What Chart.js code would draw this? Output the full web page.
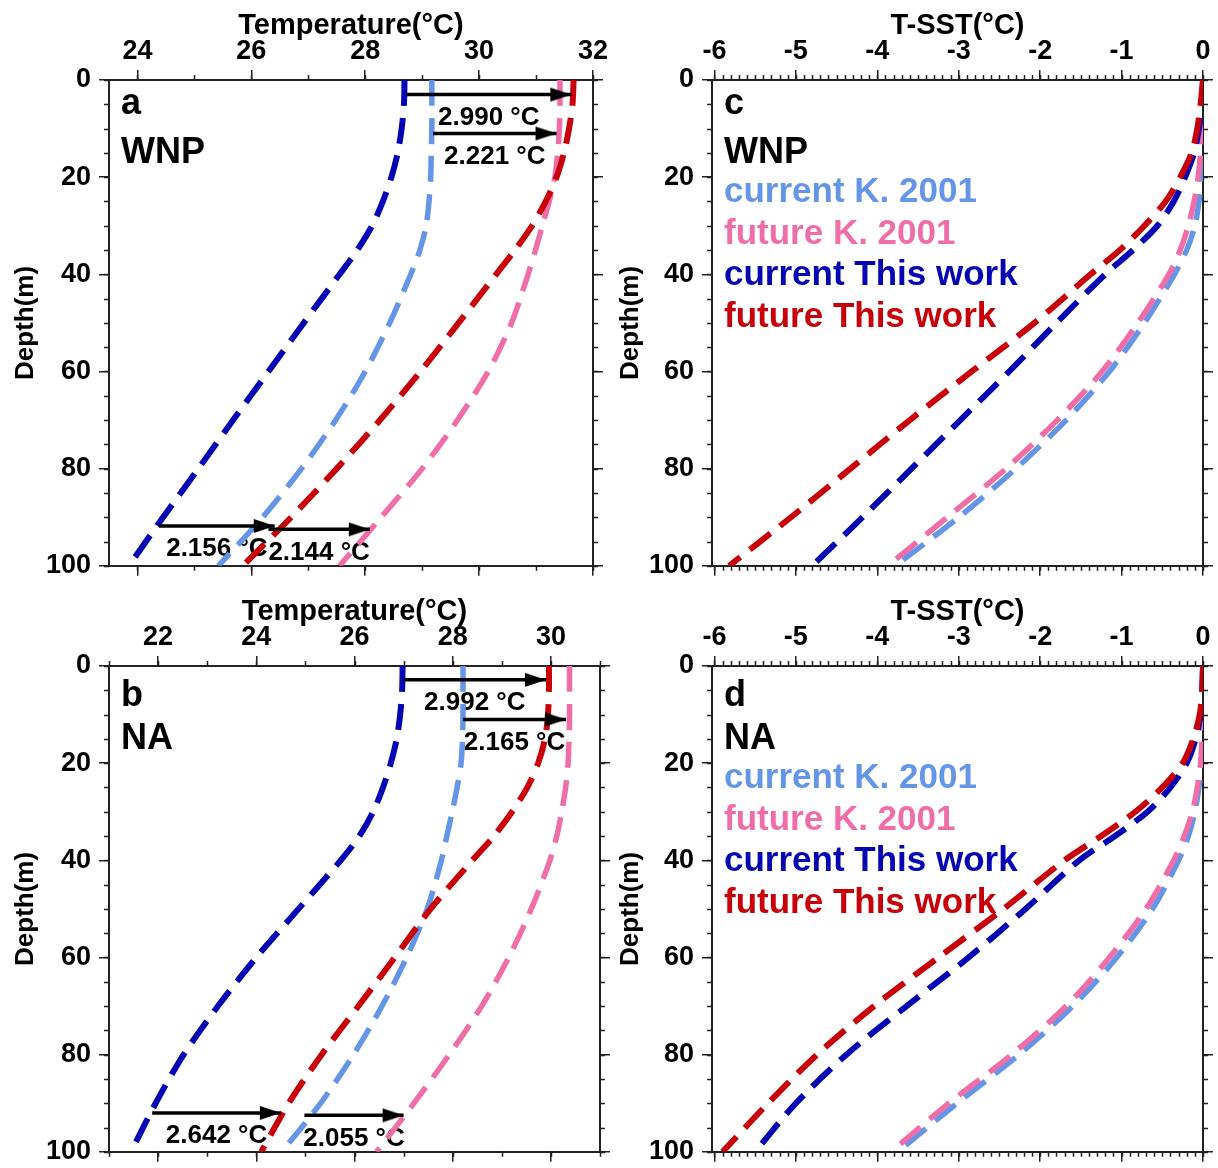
<!DOCTYPE html>
<html>
<head>
<meta charset="utf-8">
<script src="https://cdn.jsdelivr.net/npm/chart.js@4.4.1/dist/chart.umd.min.js"></script>
<style>
html, body { margin:0; padding:0; background:#fff; overflow:hidden; }
#wrap { position:relative; width:1218px; height:1168px; overflow:hidden; }
canvas { position:absolute; }
</style>
</head>
<body>
<div id="wrap">
  <canvas id="pa" width="610" height="590" style="left:0;top:0;"></canvas>
  <canvas id="pb" width="610" height="590" style="left:0;top:586px;"></canvas>
  <canvas id="pc" width="613" height="590" style="left:605px;top:0;"></canvas>
  <canvas id="pd" width="613" height="590" style="left:605px;top:586px;"></canvas>
</div>
<script>
// depth levels (m) shared by every profile
const depths = [0, 5, 10, 15, 20, 25, 30, 35, 40, 50, 60, 70, 80, 90, 100];

// a: WNP temperature (°C)
const wnpCurK    = [29.17, 29.17, 29.17, 29.16, 29.15, 29.12, 29.07, 28.96, 28.80, 28.43, 28.00, 27.48, 26.88, 26.20, 25.42];
const wnpFutK    = [31.42, 31.42, 31.41, 31.38, 31.33, 31.23, 31.11, 30.99, 30.86, 30.57, 30.16, 29.62, 29.00, 28.28, 27.55];
const wnpCurThis = [28.69, 28.68, 28.64, 28.57, 28.46, 28.31, 28.12, 27.86, 27.55, 26.92, 26.30, 25.68, 25.07, 24.45, 23.85];
const wnpFutThis = [31.66, 31.64, 31.58, 31.49, 31.36, 31.17, 30.93, 30.63, 30.30, 29.64, 28.97, 28.26, 27.50, 26.70, 25.85];

// b: NA temperature (°C)
const naCurK    = [28.21, 28.21, 28.21, 28.20, 28.17, 28.09, 27.99, 27.88, 27.77, 27.48, 27.06, 26.56, 25.98, 25.31, 24.52];
const naFutK    = [30.38, 30.38, 30.38, 30.37, 30.35, 30.30, 30.22, 30.12, 29.98, 29.60, 29.14, 28.59, 27.93, 27.21, 26.45];
const naCurThis = [26.98, 26.97, 26.93, 26.86, 26.74, 26.58, 26.38, 26.10, 25.72, 24.86, 24.00, 23.22, 22.52, 21.95, 21.45];
const naFutThis = [29.96, 29.96, 29.94, 29.88, 29.74, 29.52, 29.21, 28.84, 28.40, 27.55, 26.82, 26.08, 25.33, 24.66, 24.10];

// c: WNP T-SST (°C)
const wnpDCurK    = [0, 0, 0, -0.01, -0.02, -0.05, -0.10, -0.20, -0.35, -0.72, -1.15, -1.68, -2.30, -3.00, -3.78];
const wnpDFutK    = [0, 0, -0.01, -0.03, -0.06, -0.11, -0.18, -0.28, -0.42, -0.80, -1.24, -1.79, -2.42, -3.14, -3.87];
const wnpDCurThis = [0, -0.01, -0.05, -0.11, -0.22, -0.36, -0.56, -0.86, -1.20, -1.80, -2.38, -2.98, -3.58, -4.18, -4.80];
const wnpDFutThis = [0, -0.03, -0.07, -0.14, -0.28, -0.46, -0.72, -1.02, -1.38, -2.07, -2.84, -3.60, -4.33, -5.06, -5.82];

// d: NA T-SST (°C)
const naDCurK    = [0, 0, 0, -0.01, -0.02, -0.05, -0.10, -0.18, -0.30, -0.62, -1.06, -1.60, -2.26, -3.02, -3.75];
const naDFutK    = [0, 0, 0, -0.01, -0.03, -0.07, -0.13, -0.23, -0.36, -0.70, -1.15, -1.68, -2.35, -3.12, -3.83];
const naDCurThis = [0, -0.01, -0.03, -0.09, -0.20, -0.40, -0.68, -1.08, -1.52, -2.18, -2.88, -3.64, -4.38, -5.00, -5.50];
const naDFutThis = [0, -0.01, -0.04, -0.12, -0.25, -0.50, -0.83, -1.25, -1.70, -2.45, -3.25, -4.04, -4.74, -5.34, -5.90];

// warming arrows (from current to future, at a given depth)
const wnpArrowFrom  = [28.72, 29.19, 24.38, 26.30];
const wnpArrowTo    = [31.62, 31.36, 26.41, 28.08];
const wnpArrowDepth = [3, 11, 91.8, 92.5];
const wnpArrowLabel = ['2.990 \u00b0C', '2.221 \u00b0C', '2.156 \u00b0C', '2.144 \u00b0C'];
const naArrowFrom   = [27.00, 28.21, 21.88, 24.98];
const naArrowTo     = [29.90, 30.31, 24.50, 27.00];
const naArrowDepth  = [2.85, 11, 92.0, 92.5];
const naArrowLabel  = ['2.992 \u00b0C', '2.165 \u00b0C', '2.642 \u00b0C', '2.055 \u00b0C'];

// tick labels
const wnpTempTicks = [24, 26, 28, 30, 32];
const naTempTicks  = [22, 24, 26, 28, 30];
const dSSTTicks    = [-6, -5, -4, -3, -2, -1, 0];
const depthTicks   = [0, 20, 40, 60, 80, 100];

const seriesNames = ['current K. 2001', 'future K. 2001', 'current This work', 'future This work'];

const FONT = '"Liberation Sans", Arial, Helvetica, sans-serif';
const COLORS = ['#6495e6', '#f06ea8', '#0505b4', '#c8000a'];
const WIDTHS = [5.5, 5.5, 6, 6];
const AXIS = '#222';

// arrow head drawn as a point image, tip at the image centre
const arrowHead = document.createElement('canvas');
arrowHead.width = 44; arrowHead.height = 16;
(function () {
  const g = arrowHead.getContext('2d');
  g.fillStyle = '#000';
  g.beginPath(); g.moveTo(1, 1); g.lineTo(22, 8); g.lineTo(1, 15); g.closePath(); g.fill();
})();

const minorTicks = {
  id: 'minorTicks',
  afterDraw(chart, args, o) {
    const { ctx, chartArea: a, scales } = chart;
    const xs = scales.x, ys = scales.y;
    ctx.save();
    ctx.strokeStyle = AXIS; ctx.lineWidth = 1.5;
    ctx.beginPath();
    const i0 = Math.ceil(xs.min / o.xStep - 1e-6), i1 = Math.floor(xs.max / o.xStep + 1e-6);
    for (let i = i0; i <= i1; i++) {
      const px = Math.round(xs.getPixelForValue(i * o.xStep)) + 0.5;
      ctx.moveTo(px, a.top); ctx.lineTo(px, a.top - o.len);
      ctx.moveTo(px, a.bottom); ctx.lineTo(px, a.bottom + o.len);
    }
    for (let j = 0; j * o.yStep <= ys.max + 1e-6; j++) {
      const py = Math.round(ys.getPixelForValue(j * o.yStep)) + 0.5;
      ctx.moveTo(a.left, py); ctx.lineTo(a.left - o.len, py);
      ctx.moveTo(a.right, py); ctx.lineTo(a.right + o.len, py);
    }
    ctx.stroke();
    ctx.restore();
  }
};

const panelText = {
  id: 'panelText',
  beforeDatasetsDraw(chart, args, o) {
    const { ctx, chartArea: a, scales } = chart;
    ctx.save();
    ctx.textAlign = 'left'; ctx.textBaseline = 'alphabetic';
    ctx.fillStyle = '#000';
    ctx.font = 'bold 36px ' + FONT;
    ctx.fillText(o.letter, a.left + 12, a.top + o.letterBase);
    ctx.fillText(o.region, a.left + 12, a.top + 83);
    if (o.legend) {
      ctx.font = 'bold 35px ' + FONT;
      seriesNames.forEach((t, i) => {
        ctx.fillStyle = COLORS[i];
        ctx.fillText(t, a.left + 12, a.top + 122 + i * 41.5);
      });
    }
    if (o.arrowLabel) {
      ctx.font = 'bold 26px ' + FONT;
      ctx.textAlign = 'center'; ctx.textBaseline = 'middle'; ctx.fillStyle = '#000';
      o.arrowLabel.forEach((t, i) => {
        const x = (scales.x.getPixelForValue(o.arrowFrom[i]) + scales.x.getPixelForValue(o.arrowTo[i])) / 2;
        const y = scales.y.getPixelForValue(o.arrowDepth[i]) + 23;
        ctx.fillText(t, x, y);
      });
    }
    ctx.restore();
  }
};

function font(size) { return { family: FONT, size: size, weight: 'bold', lineHeight: 1.2 }; }
function setTicks(arr) { return s => { s.ticks = arr.map(v => ({ value: v })); }; }

function makePanel(id, p) {
  const datasets = [];
  if (p.arrowFrom) {
    p.arrowFrom.forEach((f, i) => {
      datasets.push({
        data: [{ x: f, y: p.arrowDepth[i] }, { x: p.arrowTo[i], y: p.arrowDepth[i] }],
        borderColor: '#000', borderWidth: 3.5, tension: 0,
        pointRadius: [0, 2], pointStyle: arrowHead, pointBackgroundColor: '#000'
      });
    });
  }
  // draw order: later datasets go underneath, so list This work first
  [3, 2, 1, 0].forEach(k => {
    datasets.push({
      data: depths.map((d, i) => ({ x: p.series[k][i], y: d })),
      borderColor: COLORS[k], borderWidth: WIDTHS[k],
      borderDash: [26, 12], borderCapStyle: 'butt',
      pointRadius: 0, tension: 0.3, fill: false
    });
  });

  const grid = { drawOnChartArea: false, drawTicks: true, tickLength: 10, color: AXIS, lineWidth: 1.5 };
  const border = { display: true, color: AXIS, width: 2 };

  new Chart(document.getElementById(id), {
    type: 'line',
    data: { datasets },
    options: {
      responsive: false,
      animation: false,
      layout: { padding: 0, autoPadding: false },
      plugins: {
        legend: { display: false },
        tooltip: { enabled: false },
        minorTicks: { xStep: p.minorX, yStep: 5, len: 5 },
        panelText: {
          letter: p.letter, region: p.region, letterBase: p.letterBase, legend: p.legend,
          arrowFrom: p.arrowFrom, arrowTo: p.arrowTo, arrowDepth: p.arrowDepth, arrowLabel: p.arrowLabel
        }
      },
      scales: {
        x: {
          type: 'linear', position: 'top', min: p.xMin, max: p.xMax,
          afterBuildTicks: setTicks(p.xTicks),
          afterFit: s => { s.height = 80; },
          ticks: { font: font(27), color: '#000', padding: 2, callback: v => String(v) },
          grid, border,
          title: { display: true, text: p.xTitle, font: font(29), color: '#000', padding: { top: 9, bottom: 0 } }
        },
        x2: {
          type: 'linear', position: 'bottom', min: p.xMin, max: p.xMax,
          afterBuildTicks: setTicks(p.xTicks),
          afterFit: s => { s.height = 18; },
          ticks: { display: false },
          grid, border
        },
        y: {
          type: 'linear', position: 'left', reverse: true, min: 0, max: 100,
          afterBuildTicks: setTicks(depthTicks),
          afterFit: s => { s.width = p.leftW; },
          ticks: { font: font(27), color: '#000', padding: 8, callback: v => String(v) },
          grid, border,
          title: { display: true, text: 'Depth(m)', font: font(26), color: '#000', padding: { top: 10, bottom: 0 } }
        },
        y2: {
          type: 'linear', position: 'right', reverse: true, min: 0, max: 100,
          afterBuildTicks: setTicks(depthTicks),
          afterFit: s => { s.width = p.rightW; },
          ticks: { display: false },
          grid, border
        }
      }
    },
    plugins: [minorTicks, panelText]
  });
}

const TEMP_TITLE = 'Temperature(\u00b0C)';
const DSST_TITLE = 'T-SST(\u00b0C)';

makePanel('pa', {
  series: [wnpCurK, wnpFutK, wnpCurThis, wnpFutThis],
  xMin: 23.5, xMax: 32, xTicks: wnpTempTicks, minorX: 1, xTitle: TEMP_TITLE,
  leftW: 109, rightW: 10, letter: 'a', region: 'WNP', letterBase: 34, legend: false,
  arrowFrom: wnpArrowFrom, arrowTo: wnpArrowTo, arrowDepth: wnpArrowDepth, arrowLabel: wnpArrowLabel
});
makePanel('pb', {
  series: [naCurK, naFutK, naCurThis, naFutThis],
  xMin: 21, xMax: 31, xTicks: naTempTicks, minorX: 1, xTitle: TEMP_TITLE,
  leftW: 109, rightW: 10, letter: 'b', region: 'NA', letterBase: 40, legend: false,
  arrowFrom: naArrowFrom, arrowTo: naArrowTo, arrowDepth: naArrowDepth, arrowLabel: naArrowLabel
});
makePanel('pc', {
  series: [wnpDCurK, wnpDFutK, wnpDCurThis, wnpDFutThis],
  xMin: -6.03, xMax: 0, xTicks: dSSTTicks, minorX: 0.1, xTitle: DSST_TITLE,
  leftW: 107, rightW: 15, letter: 'c', region: 'WNP', letterBase: 34, legend: true
});
makePanel('pd', {
  series: [naDCurK, naDFutK, naDCurThis, naDFutThis],
  xMin: -6.03, xMax: 0, xTicks: dSSTTicks, minorX: 0.1, xTitle: DSST_TITLE,
  leftW: 107, rightW: 15, letter: 'd', region: 'NA', letterBase: 40, legend: true
});
</script>
</body>
</html>
